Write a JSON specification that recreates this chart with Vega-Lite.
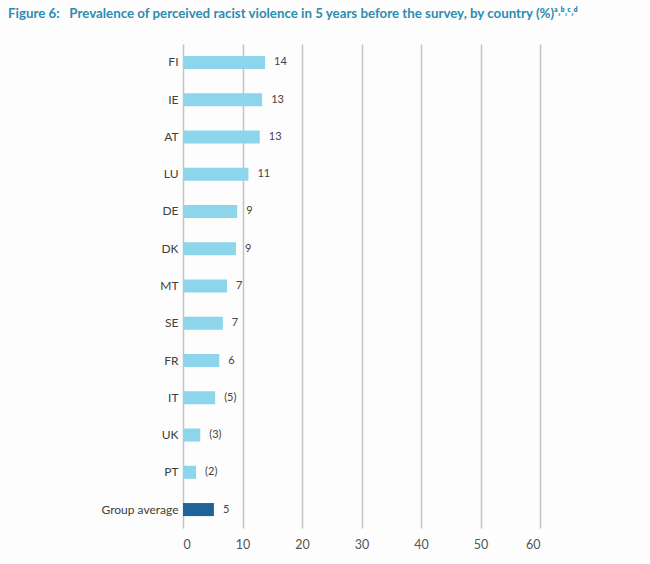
{
  "$schema": "https://vega.github.io/schema/vega-lite/v6.json",
  "width": 357,
  "height": 484,
  "autosize": {"type": "none"},
  "padding": {"left": 183, "top": 44, "right": 110, "bottom": 36},
  "background": "#fdfdfd",
  "title": {
    "text": "Figure 6:\u00a0\u00a0\u00a0Prevalence of perceived racist violence in 5 years before the survey, by country (%)ᵃ˒ᵇ˒ᶜ˒ᵈ",
    "anchor": "start",
    "frame": "group",
    "dx": -175,
    "offset": 24,
    "font": "Lato",
    "fontSize": 13.3,
    "fontWeight": "bold",
    "color": "#2b8cb3"
  },
  "data": {
    "values": [
      {"country": "FI", "value": 13.8, "label": "14", "kind": "country"},
      {"country": "IE", "value": 13.3, "label": "13", "kind": "country"},
      {"country": "AT", "value": 12.9, "label": "13", "kind": "country"},
      {"country": "LU", "value": 11.0, "label": "11", "kind": "country"},
      {"country": "DE", "value": 9.1, "label": "9", "kind": "country"},
      {"country": "DK", "value": 8.9, "label": "9", "kind": "country"},
      {"country": "MT", "value": 7.4, "label": "7", "kind": "country"},
      {"country": "SE", "value": 6.7, "label": "7", "kind": "country"},
      {"country": "FR", "value": 6.1, "label": "6", "kind": "country"},
      {"country": "IT", "value": 5.4, "label": "(5)", "kind": "country"},
      {"country": "UK", "value": 2.9, "label": "(3)", "kind": "country"},
      {"country": "PT", "value": 2.2, "label": "(2)", "kind": "country"},
      {"country": "Group average", "value": 5.2, "label": "5", "kind": "average"}
    ]
  },
  "encoding": {
    "y": {
      "field": "country",
      "type": "nominal",
      "sort": null,
      "scale": {"paddingInner": 0.65, "paddingOuter": 0.32},
      "axis": {
        "title": null,
        "domain": false,
        "ticks": false,
        "labelPadding": 5,
        "labelFont": "Lato",
        "labelFontSize": 12,
        "labelColor": "#404040"
      }
    },
    "x": {
      "field": "value",
      "type": "quantitative",
      "scale": {"domain": [0, 60], "nice": false},
      "axis": {
        "title": null,
        "values": [0, 10, 20, 30, 40, 50, 60],
        "domain": false,
        "ticks": false,
        "grid": true,
        "gridColor": "#c4c4c4",
        "gridWidth": 1.5,
        "labelPadding": 10,
        "labelFont": "Lato",
        "labelFontSize": 12.5,
        "labelColor": "#555555"
      }
    }
  },
  "layer": [
    {
      "mark": {"type": "bar"},
      "encoding": {
        "color": {
          "field": "kind",
          "type": "nominal",
          "scale": {"domain": ["country", "average"], "range": ["#8dd5eb", "#1f6499"]},
          "legend": null
        }
      }
    },
    {
      "mark": {"type": "text", "align": "left", "baseline": "middle", "dx": 9, "font": "Lato", "fontSize": 11, "color": "#444444"},
      "encoding": {
        "text": {"field": "label", "type": "nominal"}
      }
    }
  ],
  "config": {"view": {"stroke": null}}
}
